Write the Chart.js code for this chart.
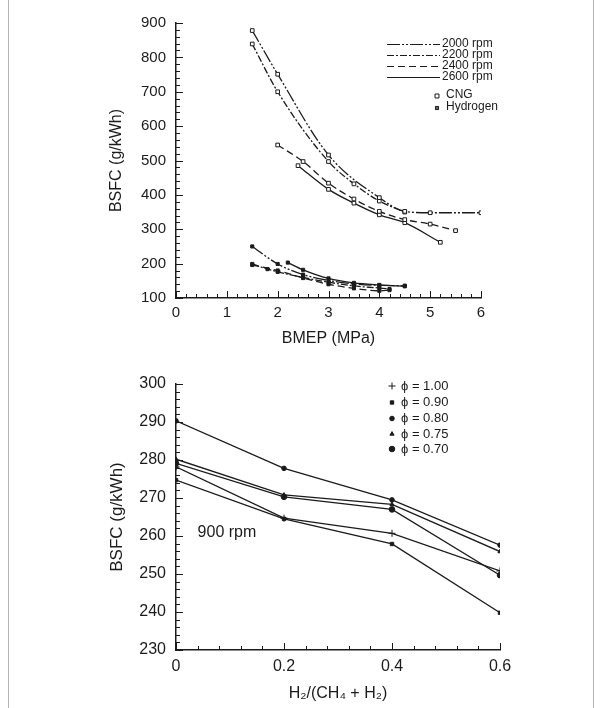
<!DOCTYPE html>
<html>
<head>
<title>BSFC</title>
<script src="https://cdn.jsdelivr.net/npm/chart.js"></script>
<style>
  body { margin: 0; background: #fff; }
  #wrap { position: relative; width: 602px; height: 708px; overflow: hidden; }
  #frame { position: absolute; left: 8px; top: -2px; width: 584px; height: 720px;
           border-left: 1px solid #b4b4b4; border-right: 1px solid #b4b4b4; }
  #c1 { position: absolute; left: 0; top: 0; }
  #c2 { position: absolute; left: 0; top: 350px; }
</style>
</head>
<body>
<div id="wrap">
  <div id="frame"></div>
  <canvas id="c1" width="602" height="350"></canvas>
  <canvas id="c2" width="602" height="358"></canvas>
</div>
<script>
// ---- top chart: BSFC vs BMEP, CNG (upper group) and hydrogen (lower group)
const cng2000x = [1.5, 2, 3, 4, 4.5, 5, 6];
const cng2000y = [878, 751, 516, 392, 352, 348, 348];
const cng2200x = [1.5, 2, 3, 3.5, 4, 4.5];
const cng2200y = [839, 700, 497, 432, 382, 350];
const cng2400x = [2, 2.5, 3, 3.5, 4, 4.5, 5, 5.5];
const cng2400y = [545, 497, 434, 388, 352, 328, 315, 296];
const cng2600x = [2.4, 3, 3.5, 4, 4.5, 5.2];
const cng2600y = [485, 416, 376, 342, 319, 262];

const h2000x = [1.5, 2, 2.5, 3, 3.5, 4, 4.5];
const h2000y = [250, 199, 168, 151, 141, 137, 136];
const h2200x = [1.5, 1.8, 2, 2.5, 3, 3.5, 4, 4.2];
const h2200y = [199, 184, 176, 160, 146, 135, 129, 126];
const h2400x = [1.5, 2, 2.5, 3, 3.5, 4, 4.2];
const h2400y = [196, 180, 158, 140, 128, 121, 123];
const h2600x = [2.2, 2.5, 3, 3.5, 4, 4.5];
const h2600y = [203, 182, 157, 144, 138, 134];

const rpmLabels = ['2000 rpm', '2200 rpm', '2400 rpm', '2600 rpm'];
const fuelLabels = ['CNG', 'Hydrogen'];

// ---- bottom chart: BSFC vs hydrogen fraction at 900 rpm
const h2Frac = [0, 0.2, 0.4, 0.6];
const phi100 = [278.2, 264.7, 260.7, 250.8];
const phi090 = [274.7, 264.5, 257.9, 239.8];
const phi080 = [290.3, 277.8, 269.5, 257.6];
const phi075 = [280.2, 270.8, 268.3, 255.9];
const phi070 = [279.1, 270.3, 267.0, 249.7];
const phiLabels = ['\u03d5 = 1.00', '\u03d5 = 0.90', '\u03d5 = 0.80', '\u03d5 = 0.75', '\u03d5 = 0.70'];

const INK = '#1b1b1b';
const FONT = 'Liberation Sans, Arial, sans-serif';
const dashes = [[13, 2, 2, 2, 2, 2], [7, 2, 2, 2], [7, 4], []];

const pts = (xs, ys) => xs.map((x, i) => ({ x: x, y: ys[i] }));
const isMajor = (v, step) => Math.abs(v / step - Math.round(v / step)) < 1e-6;

function tickRange(min, max, step) {
  const out = [];
  const n = Math.round((max - min) / step);
  for (let i = 0; i <= n; i++) out.push({ value: +(min + i * step).toFixed(4) });
  return out;
}

// ticks drawn on the inside of the axes, long at labelled values
function innerTicks(xMajor, yMajor) {
  return {
    id: 'innerTicks',
    afterDraw(chart) {
      const ctx = chart.ctx, a = chart.chartArea;
      ctx.save();
      ctx.strokeStyle = INK;
      ctx.lineWidth = 1;
      const sx = chart.scales.x, sy = chart.scales.y;
      sx.ticks.forEach(t => {
        const len = isMajor(t.value, xMajor) ? 7 : 4;
        const p = Math.round(sx.getPixelForValue(t.value)) + 0.5;
        ctx.beginPath();
        ctx.moveTo(p, a.bottom);
        ctx.lineTo(p, a.bottom - len);
        ctx.stroke();
      });
      sy.ticks.forEach(t => {
        const len = isMajor(t.value, yMajor) ? 7 : 4;
        const p = Math.round(sy.getPixelForValue(t.value)) + 0.5;
        ctx.beginPath();
        ctx.moveTo(a.left, p);
        ctx.lineTo(a.left + len, p);
        ctx.stroke();
      });
      ctx.restore();
    }
  };
}

function marker(ctx, style, x, y, r, fill) {
  ctx.save();
  ctx.fillStyle = fill;
  ctx.strokeStyle = INK;
  ctx.lineWidth = 1;
  Chart.helpers.drawPoint(ctx, { pointStyle: style, radius: r, borderWidth: 1 }, x, y);
  ctx.restore();
}

const topLegend = {
  id: 'topLegend',
  afterDraw(chart) {
    const ctx = chart.ctx;
    ctx.save();
    ctx.font = '12px ' + FONT;
    ctx.fillStyle = INK;
    ctx.textBaseline = 'middle';
    const rows = [44, 55, 66, 77];
    rpmLabels.forEach((lab, i) => {
      ctx.strokeStyle = INK;
      ctx.lineWidth = 1.2;
      ctx.setLineDash(dashes[i]);
      ctx.beginPath();
      ctx.moveTo(387, rows[i] + 0.5);
      ctx.lineTo(440, rows[i] + 0.5);
      ctx.stroke();
      ctx.setLineDash([]);
      ctx.fillText(lab, 442, rows[i]);
    });
    marker(ctx, 'rect', 437, 96, 2.8, '#fff');
    ctx.fillText(fuelLabels[0], 446, 95);
    marker(ctx, 'rect', 437, 108, 2.2, '#666');
    ctx.fillText(fuelLabels[1], 446, 107);
    ctx.restore();
  }
};

const phiStyles = [
  { style: 'cross', r: 3.5 },
  { style: 'rect', r: 2.4 },
  { style: 'circle', r: 2.3 },
  { style: 'triangle', r: 2.4 },
  { style: 'circle', r: 2.8 }
];

const bottomLegend = {
  id: 'bottomLegend',
  afterDraw(chart) {
    const ctx = chart.ctx;
    const x = chart.scales.x, y = chart.scales.y;
    ctx.save();
    ctx.font = '13px ' + FONT;
    ctx.fillStyle = INK;
    ctx.textBaseline = 'middle';
    const rows = [36, 52.5, 68.5, 84, 99];
    phiLabels.forEach((lab, i) => {
      marker(ctx, phiStyles[i].style, 392, rows[i], phiStyles[i].r, INK);
      ctx.fillStyle = INK;
      ctx.fillText(lab, 401, rows[i]);
    });
    ctx.font = '16px ' + FONT;
    ctx.fillText('900 rpm', x.getPixelForValue(0.04), y.getPixelForValue(260.8));
    ctx.restore();
  }
};

function lineSet(xs, ys, dash, cng) {
  return {
    data: pts(xs, ys),
    borderColor: INK,
    borderWidth: 1.3,
    borderDash: dash,
    cubicInterpolationMode: 'monotone',
    pointStyle: 'rect',
    pointRadius: cng ? 2.6 : 2.2,
    pointBackgroundColor: cng ? '#fff' : INK,
    pointBorderColor: INK,
    pointBorderWidth: 1
  };
}

function axisTitle(text, size, pad) {
  return { display: true, text: text, color: INK, font: { family: FONT, size: size }, padding: pad };
}

const noGrid = { display: false, drawTicks: false };

new Chart(document.getElementById('c1'), {
  type: 'line',
  data: {
    datasets: [
      lineSet(cng2000x, cng2000y, dashes[0], true),
      lineSet(cng2200x, cng2200y, dashes[1], true),
      lineSet(cng2400x, cng2400y, dashes[2], true),
      lineSet(cng2600x, cng2600y, dashes[3], true),
      lineSet(h2000x, h2000y, dashes[0], false),
      lineSet(h2200x, h2200y, dashes[1], false),
      lineSet(h2400x, h2400y, dashes[2], false),
      lineSet(h2600x, h2600y, dashes[3], false)
    ]
  },
  options: {
    responsive: false,
    animation: false,
    layout: { padding: { left: 100, right: 121, top: 23, bottom: 0 } },
    plugins: { legend: { display: false }, tooltip: { enabled: false } },
    scales: {
      x: {
        type: 'linear', min: 0, max: 6,
        grid: noGrid,
        border: { color: INK, width: 1.5 },
        afterBuildTicks: s => { s.ticks = tickRange(0, 6, 0.2); },
        afterFit: s => { s.height = 52; },
        ticks: {
          autoSkip: false, maxRotation: 0, padding: 6, color: INK,
          font: { family: FONT, size: 15 },
          callback: v => isMajor(v, 1) ? String(Math.round(v)) : ''
        },
        title: axisTitle('BMEP (MPa)', 16, { top: 0, bottom: 2 })
      },
      y: {
        type: 'linear', min: 100, max: 900,
        grid: noGrid,
        border: { color: INK, width: 1.5 },
        afterBuildTicks: s => { s.ticks = tickRange(100, 900, 20); },
        afterFit: s => { s.width = 76; },
        ticks: {
          autoSkip: false, padding: 10, color: INK,
          font: { family: FONT, size: 15 },
          callback: v => isMajor(v, 100) ? String(Math.round(v)) : ''
        },
        title: axisTitle('BSFC (g/kWh)', 16, { top: 7, bottom: 0 })
      }
    }
  },
  plugins: [innerTicks(1, 100), topLegend]
});

function phiSet(ys, i) {
  return {
    data: pts(h2Frac, ys),
    borderColor: INK,
    borderWidth: 1.3,
    tension: 0,
    pointStyle: phiStyles[i].style,
    pointRadius: phiStyles[i].r,
    pointBackgroundColor: INK,
    pointBorderColor: INK,
    pointBorderWidth: 1
  };
}

new Chart(document.getElementById('c2'), {
  type: 'line',
  data: {
    datasets: [phiSet(phi100, 0), phiSet(phi090, 1), phiSet(phi080, 2), phiSet(phi075, 3), phiSet(phi070, 4)]
  },
  options: {
    responsive: false,
    animation: false,
    layout: { padding: { left: 100, right: 102, top: 34, bottom: 0 } },
    plugins: { legend: { display: false }, tooltip: { enabled: false } },
    scales: {
      x: {
        type: 'linear', min: 0, max: 0.6,
        grid: noGrid,
        border: { color: INK, width: 1.5 },
        afterBuildTicks: s => { s.ticks = tickRange(0, 0.6, 0.04); },
        afterFit: s => { s.height = 58; },
        ticks: {
          autoSkip: false, maxRotation: 0, padding: 7, color: INK,
          font: { family: FONT, size: 16 },
          callback: v => isMajor(v, 0.2) ? (v === 0 ? '0' : v.toFixed(1)) : ''
        },
        title: axisTitle('H\u2082/(CH\u2084 + H\u2082)', 16, { top: 0, bottom: 5 })
      },
      y: {
        type: 'linear', min: 230, max: 300,
        grid: noGrid,
        border: { color: INK, width: 1.5 },
        afterBuildTicks: s => { s.ticks = tickRange(230, 300, 2); },
        afterFit: s => { s.width = 76; },
        ticks: {
          autoSkip: false, padding: 10, color: INK,
          font: { family: FONT, size: 16 },
          callback: v => isMajor(v, 10) ? String(Math.round(v)) : ''
        },
        title: axisTitle('BSFC (g/kWh)', 17, { top: 7, bottom: 0 })
      }
    }
  },
  plugins: [innerTicks(0.2, 10), bottomLegend]
});
</script>
</body>
</html>
